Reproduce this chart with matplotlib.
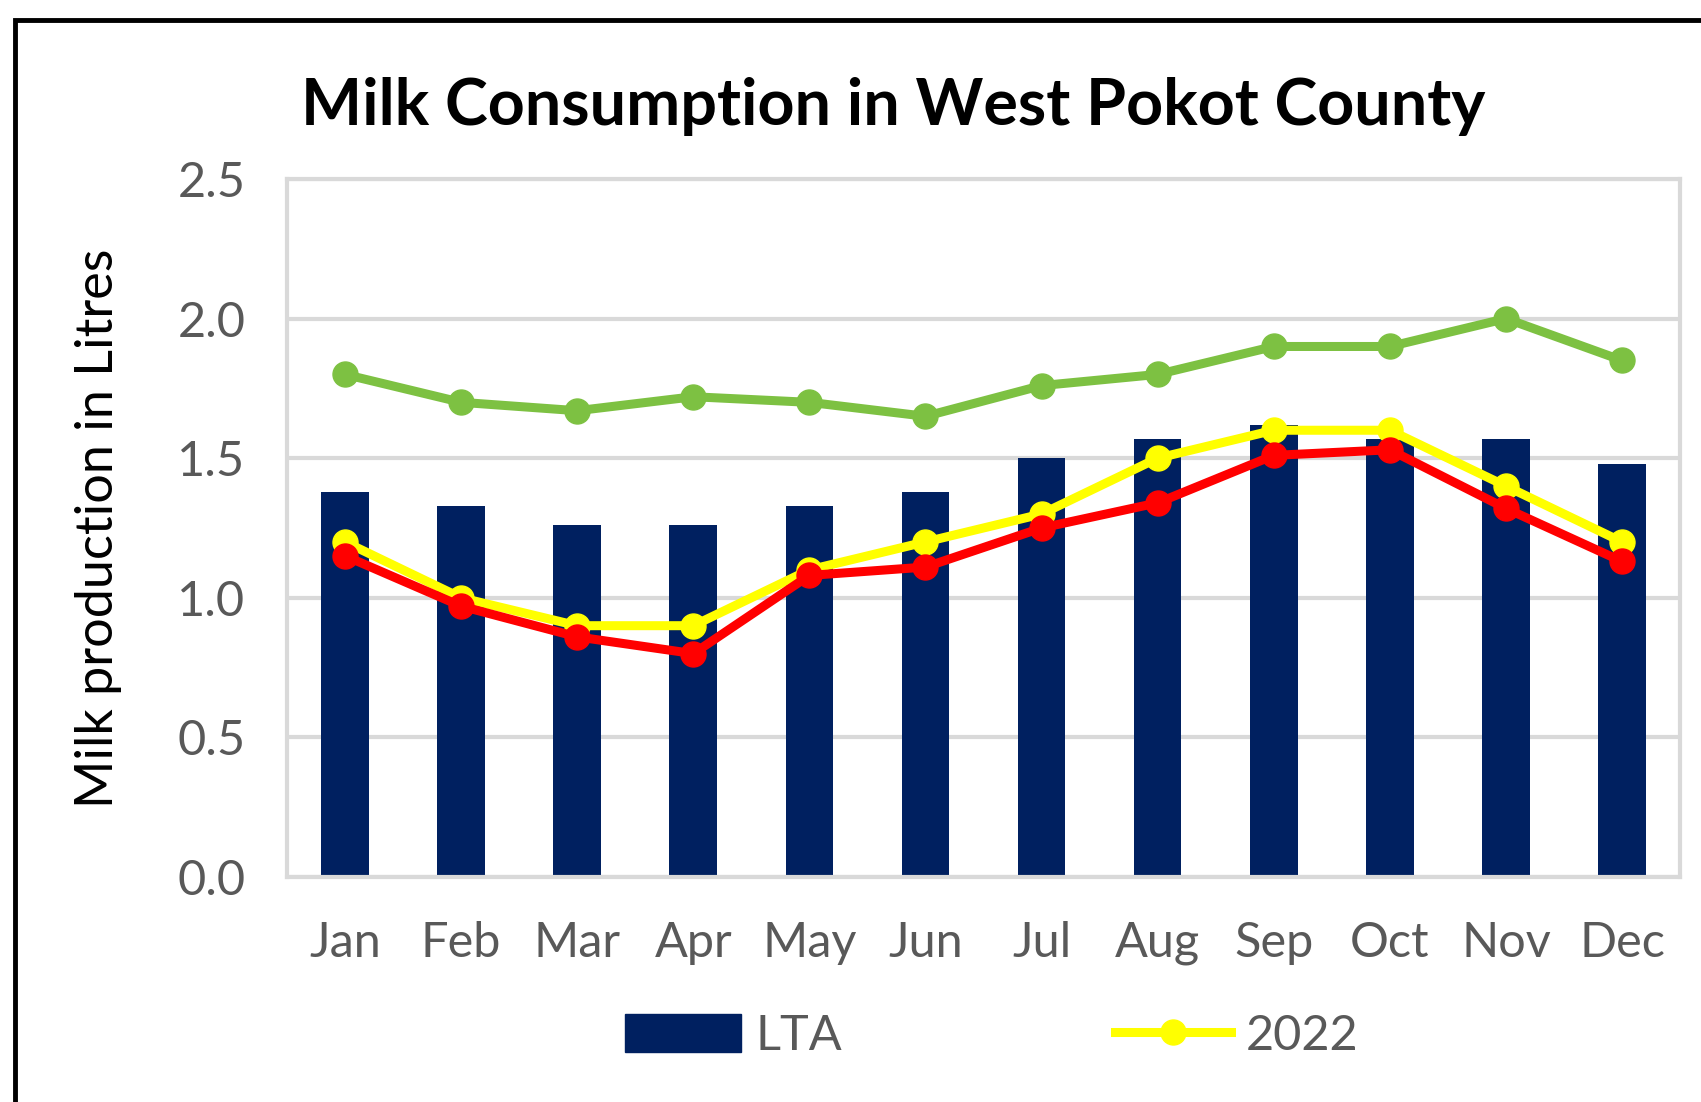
import matplotlib
matplotlib.use("Agg")
import matplotlib.pyplot as plt
from matplotlib.patches import Rectangle
from matplotlib.lines import Line2D
from matplotlib.patches import Patch
import numpy as np

plt.rcParams['font.family'] = ['Lato', 'DejaVu Sans']

months = ["Jan", "Feb", "Mar", "Apr", "May", "Jun",
          "Jul", "Aug", "Sep", "Oct", "Nov", "Dec"]
lta = [1.38, 1.33, 1.26, 1.26, 1.33, 1.38, 1.50, 1.57, 1.62, 1.57, 1.57, 1.48]
green_series = [1.80, 1.70, 1.67, 1.72, 1.70, 1.65, 1.76, 1.80, 1.90, 1.90, 2.00, 1.85]
y2022 = [1.20, 1.00, 0.90, 0.90, 1.10, 1.20, 1.30, 1.50, 1.60, 1.60, 1.40, 1.20]
red_series = [1.15, 0.97, 0.86, 0.80, 1.08, 1.11, 1.25, 1.34, 1.51, 1.53, 1.32, 1.13]
yticks = [0.0, 0.5, 1.0, 1.5, 2.0, 2.5]

navy = "#002060"
green = "#7DC142"
yellow = "#FFFF00"
red = "#FF0000"
grey_text = "#595959"
grid_col = "#D9D9D9"

fig = plt.figure(figsize=(17.01, 11.02), dpi=100)
ax = fig.add_axes([0.1687, 0.2042, 0.8190, 0.6334])

x = np.arange(len(months))
ax.bar(x, lta, width=0.41, color=navy, zorder=2)
ax.plot(x, green_series, color=green, lw=6.5, marker="o", ms=18, zorder=3)
ax.plot(x, y2022, color=yellow, lw=6.5, marker="o", ms=18, zorder=4)
ax.plot(x, red_series, color=red, lw=6.5, marker="o", ms=18, zorder=5)

ax.set_xlim(-0.5, len(months) - 0.5)
ax.set_ylim(0, 2.5)
ax.set_yticks(yticks)
ax.set_yticklabels([f"{v:.1f}" for v in yticks])
ax.set_xticks(x)
ax.set_xticklabels(months)
ax.yaxis.grid(True, color=grid_col, lw=3, zorder=0)
ax.set_axisbelow(True)
for s in ax.spines.values():
    s.set_color(grid_col)
    s.set_linewidth(3)
ax.tick_params(axis="both", length=0, labelsize=35, labelcolor=grey_text)
ax.tick_params(axis="y", pad=30)
ax.tick_params(axis="x", pad=32)

ax.set_ylabel("Milk production in Litres", fontsize=37.5, color="black", labelpad=40)
fig.text(0.525, 0.903, "Milk Consumption in West Pokot County",
         ha="center", va="center", fontsize=46.5, fontweight="bold", color="black")

handles = [Patch(facecolor=navy, edgecolor=navy),
           Line2D([0], [0], color=yellow, lw=6.5, marker="o", ms=18)]
fig.legend(handles, ["LTA", "2022"], loc="center", bbox_to_anchor=(0.583, 0.060),
           ncol=2, frameon=False, fontsize=35, labelcolor=grey_text,
           handlelength=2.4, handleheight=0.8, columnspacing=5.6, handletextpad=0.3)

# outer frame
fig.patches.append(Rectangle((15 / 1701, -0.2), 1.2, 1.2 - 20 / 1102,
                             transform=fig.transFigure, fill=False,
                             edgecolor="black", lw=3.5))

fig.savefig("out.png", dpi=100, facecolor="white")
